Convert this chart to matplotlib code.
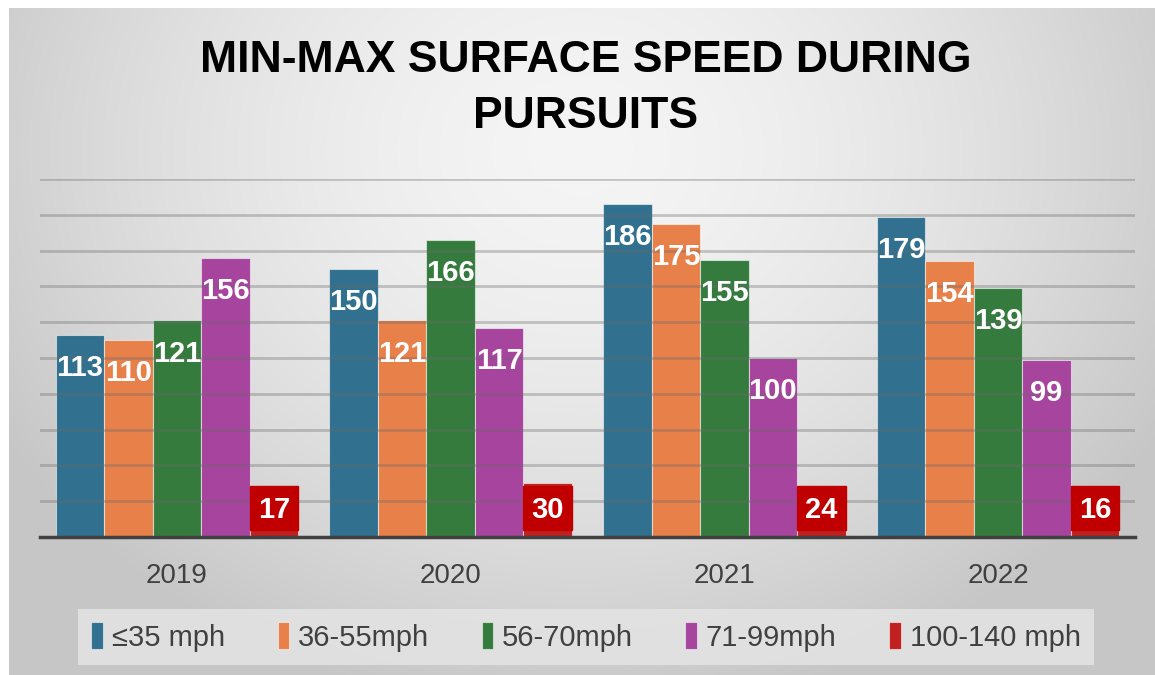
import numpy as np
import matplotlib
matplotlib.use("Agg")
import matplotlib.pyplot as plt
from matplotlib.patches import Rectangle

plt.rcParams['font.family'] = ['Liberation Sans', 'DejaVu Sans']

# ---- data ----
years = ['2019', '2020', '2021', '2022']
series = ['≤35 mph', '36-55mph', '56-70mph', '71-99mph', '100-140 mph']
v_35 = [113, 150, 186, 179]
v_36_55 = [110, 121, 175, 154]
v_56_70 = [121, 166, 155, 139]
v_71_99 = [156, 117, 100, 99]
v_100_140 = [17, 30, 24, 16]
values = [v_35, v_36_55, v_56_70, v_71_99, v_100_140]
colors = ['#31708e', '#e8804a', '#367b3e', '#a6449e', '#c0201f']

W, H = 1155, 675
fig = plt.figure(figsize=(W / 100, H / 100), dpi=100)

# background: white frame + soft radial gray gradient
bg = fig.add_axes([0, 0, 1, 1])
bg.set_axis_off()
yy, xx = np.mgrid[0:H, 0:W]
r = np.sqrt(((xx - 580) / 620.0) ** 2 + ((yy - 150) / 520.0) ** 2)
shade = np.clip(0.96 - 0.16 * r ** 1.6, 0.78, 0.965)
img = np.dstack([shade] * 3)
img[:8, :, :] = 1.0
img[:, :9, :] = 1.0
bg.imshow(img, extent=[0, W, H, 0], aspect='auto')
bg.set_xlim(0, W)
bg.set_ylim(H, 0)

ax = fig.add_axes([40 / W, 1 - 537 / H, 1095 / W, 358 / H])
ax.patch.set_alpha(0)

x = np.arange(len(years))
bw = 0.177
offsets = (np.arange(len(series)) - 2) * bw

for i, (vals, c) in enumerate(zip(values, colors)):
    ax.bar(x + offsets[i], vals, bw, color=c, edgecolor=(1, 1, 1, 0.55),
           linewidth=0.8, label=series[i], zorder=2)
    for xi, v in zip(x + offsets[i], vals):
        if i < 4:
            ax.text(xi, v - 18.5, str(v), ha='center', va='center',
                    color='white', fontsize=21, fontweight='bold', zorder=5)
        else:
            # red label box sitting over the small bar
            ax.add_patch(Rectangle((xi - bw / 2, 4), bw, 24.5, color='#c00000', zorder=4))
            ax.text(xi, 15.2, str(v), ha='center', va='center',
                    color='white', fontsize=21, fontweight='bold', zorder=5)

ax.set_ylim(0, 200)
ax.set_xlim(-0.5, 3.5)
ax.set_yticks(np.arange(20, 201, 20))
ax.yaxis.grid(True, color='#6a6a6a', alpha=0.35, linewidth=2.0, zorder=3)
ax.set_axisbelow(False)
ax.tick_params(axis='y', left=False, labelleft=False)
ax.tick_params(axis='x', bottom=False, pad=15)
ax.set_xticks(x)
ax.set_xticklabels(years, fontsize=20, color='#404040')
for s in ['top', 'right', 'left']:
    ax.spines[s].set_visible(False)
ax.spines['bottom'].set_color('#404040')
ax.spines['bottom'].set_linewidth(2.5)
ax.spines['bottom'].set_zorder(6)

fig.text(0.507, 1 - 60 / H, 'MIN-MAX SURFACE SPEED DURING', ha='center', va='center',
         fontsize=32, fontweight='bold', color='black')
fig.text(0.507, 1 - 116 / H, 'PURSUITS', ha='center', va='center',
         fontsize=32, fontweight='bold', color='black')

leg = fig.legend(loc='center', bbox_to_anchor=(586 / W, 1 - 637 / H), ncol=5,
                 fontsize=21, frameon=True, fancybox=False, handlelength=0.4,
                 handleheight=1.05, handletextpad=0.3, columnspacing=1.8,
                 borderpad=0.45)
leg.get_frame().set_facecolor('#e4e4e4')
leg.get_frame().set_edgecolor('none')
leg.get_frame().set_alpha(0.85)
for t in leg.get_texts():
    t.set_color('#404040')

fig.savefig('out.png', dpi=100)
